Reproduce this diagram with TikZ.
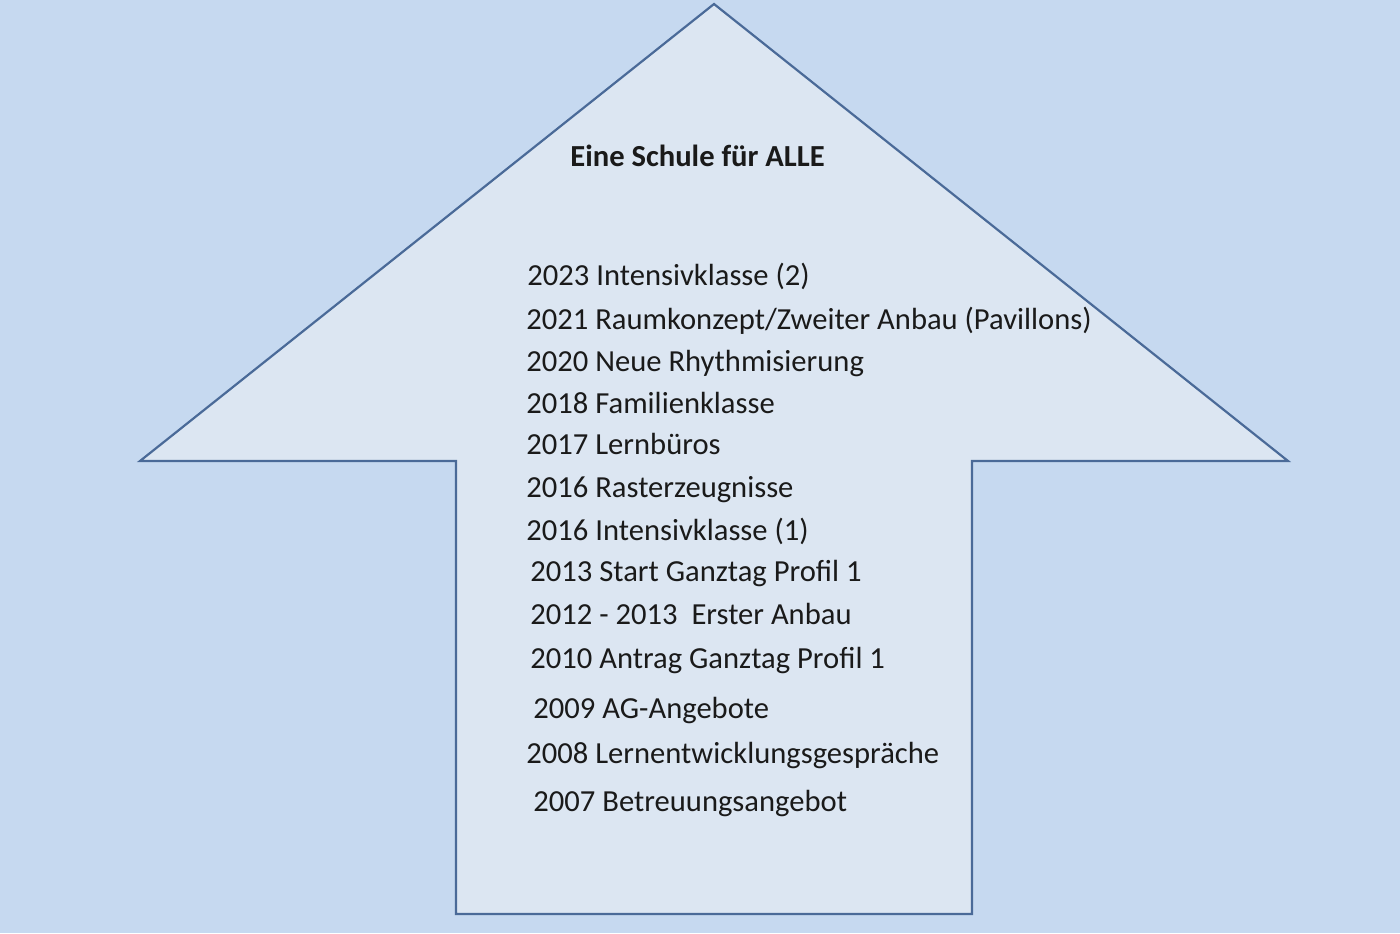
\documentclass[tikz,border=0pt]{standalone}
\usepackage{fontspec}
\setmainfont{Carlito}
\definecolor{bgblue}{HTML}{C6D9F0}
\definecolor{arrowfill}{HTML}{DCE6F2}
\definecolor{arrowline}{HTML}{4A6A98}
\definecolor{txt}{HTML}{1A1A1A}
\begin{document}
\begin{tikzpicture}[x=0.5pt,y=-0.5pt,
  item/.style={anchor=base west,inner sep=0pt,text=txt,font=\fontsize{15.3}{18}\selectfont},
  titletxt/.style={anchor=base west,inner sep=0pt,text=txt,font=\fontsize{15.3}{18}\selectfont\bfseries}]
\fill[bgblue] (0,0) rectangle (1400,933);
\useasboundingbox (0,0) rectangle (1400,933);
\draw[fill=arrowfill,draw=arrowline,line width=1.1pt,line join=miter]
  (714,4) -- (1288,461) -- (972,461) -- (972,914) -- (456,914) -- (456,461) -- (140,461) -- cycle;
\node[titletxt] (title) at (570,166) {Eine Schule für ALLE};
\node[item] (l1) at (527,285) {2023 Intensivklasse (2)};
\node[item] (l2) at (526,329) {2021 Raumkonzept/Zweiter Anbau (Pavillons)};
\node[item] (l3) at (526,371) {2020 Neue Rhythmisierung};
\node[item] (l4) at (526,413) {2018 Familienklasse};
\node[item] (l5) at (526,454) {2017 Lernbüros};
\node[item] (l6) at (526,497) {2016 Rasterzeugnisse};
\node[item] (l7) at (526,540) {2016 Intensivklasse (1)};
\node[item] (l8) at (530,581) {2013 Start Ganztag Profil 1};
\node[item] (l9) at (530,624) {2012 - 2013\ \ Erster Anbau};
\node[item] (l10) at (530,668) {2010 Antrag Ganztag Profil 1};
\node[item] (l11) at (533,718) {2009 AG-Angebote};
\node[item] (l12) at (526,763) {2008 Lernentwicklungsgespräche};
\node[item] (l13) at (533,811) {2007 Betreuungsangebot};
\end{tikzpicture}
\end{document}
